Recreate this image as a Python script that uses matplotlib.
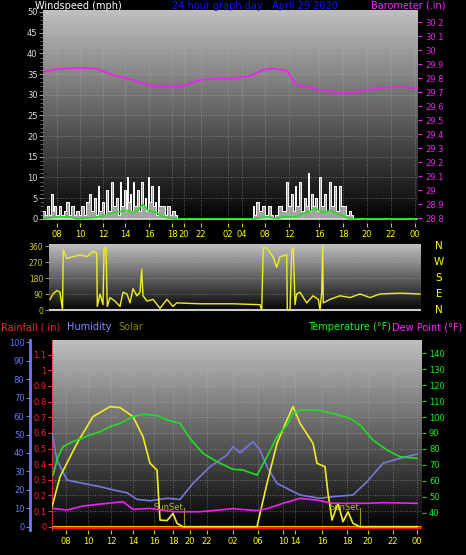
import matplotlib
matplotlib.use('Agg')
import matplotlib.pyplot as plt
import numpy as np

# ---- data (x values are horizontal positions, in pixels) ----
top_tick_pos = [57, 80, 103, 125, 149, 172, 184, 201, 228, 242, 265, 289, 319, 343, 367, 391, 415]
top_tick_lab = ['08', '10', '12', '14', '16', '18', '20', '22', '02', '04', '08', '12', '16', '18', '20', '22', '00']

baro_x = [43, 57, 80, 97, 113, 133, 150, 167, 182, 200, 217, 233, 250, 263, 273, 287, 295, 317, 333, 353, 367, 383, 400, 417]
baro_y = [29.848, 29.864, 29.876, 29.867, 29.824, 29.788, 29.75, 29.74, 29.745, 29.788, 29.80, 29.798,
          29.817, 29.86, 29.871, 29.855, 29.76, 29.72, 29.705, 29.70, 29.717, 29.733, 29.74, 29.729]

gust_x = [43, 46, 48, 50, 52, 53, 55, 57, 60, 62, 65, 67, 70, 72, 75, 77, 80, 82, 85, 87, 90, 92, 95, 97, 98,
          100, 103, 105, 107, 109, 112, 114, 117, 119, 120, 122, 125, 126, 127, 129, 130, 132, 133, 135,
          138, 140, 142, 144, 145, 147, 148, 150, 152, 154, 155, 157, 158, 160, 163, 166, 168, 171, 173, 176, 177, 178,
          252, 253, 255, 257, 260, 263, 266, 270, 272, 273, 276, 280, 284, 287, 289, 292, 294, 295, 297, 300,
          302, 305, 307, 308, 310, 312, 314, 315, 318, 320, 322, 325, 327, 330, 332, 335, 337, 340, 342, 345,
          347, 350, 352, 353]
gust_y = [2, 1, 3, 1, 6, 2, 3, 1, 3, 1, 2, 4, 1, 3, 1, 2, 1, 3, 1, 4, 6, 2, 5, 1, 8,
          2, 4, 1, 7, 2, 9, 3, 5, 1, 9, 3, 7, 2, 10, 4, 6, 2, 9, 3,
          7, 2, 9, 3, 5, 2, 10, 4, 8, 3, 4, 1, 8, 3, 3, 1, 3, 1, 2, 1, 0, 0,
          0, 3, 1, 4, 2, 3, 1, 3, 1, 0, 1, 3, 2, 9, 3, 6, 2, 8, 3, 9,
          2, 5, 3, 11, 2, 6, 3, 5, 2, 10, 3, 6, 2, 9, 3, 8, 2, 8, 3, 3,
          1, 2, 1, 0]

avg_x = [43, 57, 70, 77, 100, 113, 127, 133, 137, 143, 148, 157, 163, 173, 253, 267, 277, 283, 297, 300, 307, 315, 323, 330, 340, 350, 417]
avg_y = [0, 0.5, 0.5, 0, 0.5, 1.5, 2, 1.5, 2, 3.5, 2, 1.5, 0.5, 0, 0, 0.5, 0, 0.5, 0.5, 1, 1.5, 2.5, 1.5, 2, 1, 0, 0]

dir_x = [50, 53, 57, 60, 62.5, 63.3, 66.7, 73, 80, 87, 93, 96.7, 97.3, 100, 103, 104, 106, 107.3, 110, 115, 120, 123,
         127, 130, 133, 137, 140, 141.7, 143, 147, 153, 160, 167, 173, 176.7, 200, 233, 260, 261.7, 263.3, 266.7,
         273, 276.7, 280, 286.7, 287.3, 290, 291.7, 293.3, 295, 296.7, 300, 306.7, 313, 318.3, 320, 321.7, 322.7,
         323.3, 330, 340, 350, 360, 370, 380, 400, 420]
dir_y = [60, 90, 110, 100, 0, 340, 290, 300, 310, 300, 330, 320, 20, 90, 30, 350, 350, 20, 70, 50, 20, 100,
         90, 40, 120, 80, 100, 230, 80, 50, 60, 10, 60, 20, 40, 35, 35, 30, 0, 350, 350,
         300, 240, 300, 310, 0, 0, 330, 350, 30, 90, 100, 40, 80, 60, 0, 100, 360,
         40, 60, 80, 70, 90, 70, 90, 95, 90]

bot_tick_pos = [66, 88, 111, 133, 154, 173, 190, 207, 233, 258, 283, 295, 322, 347, 368, 393, 417]
bot_tick_lab = ['08', '10', '12', '14', '16', '18', '20', '22', '02', '06', '10', '14', '16', '18', '20', '22', '00']

temp_x = [53, 58, 63, 73, 87, 100, 110, 120, 133, 143, 157, 167, 180, 190, 203, 217, 233, 243, 257, 267, 277,
          287, 293, 300, 317, 333, 350, 360, 373, 387, 400, 417]
temp_y = [63.6, 75.1, 81.4, 84.6, 88.1, 90.8, 94, 96, 100.3, 101.7, 101, 98.2, 96, 86.6, 77.2, 72, 67.2, 66.8,
          63.6, 75.1, 87.7, 95, 102.3, 104.4, 104.4, 102.3, 99.2, 95, 85.6, 79.3, 75.1, 74.1]

dew_x = [53, 67, 83, 100, 123, 133, 150, 173, 200, 233, 257, 267, 283, 300, 317, 333, 367, 383, 417]
dew_y = [42.7, 41.7, 44.2, 45.4, 46.9, 42.1, 42.7, 40.6, 40.6, 42.5, 41.3, 42.5, 45.9, 49, 47.9, 45.9, 45.9, 46.3, 45.9]

hum_x = [52, 57, 67, 83, 100, 117, 127, 137, 150, 167, 180, 193, 210, 227, 233, 240, 253, 260, 267, 277, 290,
         300, 320, 333, 353, 367, 383, 400, 417]
hum_y = [50.6, 36.2, 25.3, 23.5, 21.7, 19.5, 18.4, 14.8, 14.1, 15.4, 14.8, 23.5, 32.5, 38.9, 43.4, 40.1, 46.1,
         41.6, 32.5, 23.5, 19.9, 17.2, 15.4, 16.3, 17.2, 24.4, 34.4, 37.1, 39.4]

solar_x = [52, 60, 77, 93, 110, 120, 133, 143, 150, 157, 160, 167, 173, 177, 183, 257, 267, 277, 287, 293, 300,
           313, 317, 325, 328, 332, 338, 343, 348, 353, 360, 417]
solar_y = [10.8, 27.1, 45.2, 59.7, 65.1, 64.6, 59.7, 48.8, 34.4, 30.7, 3.6, 3.3, 7.2, 1.8, 0, 0, 23.5, 45.2, 57.9,
           65.1, 56.1, 45.2, 34.4, 32.5, 18.1, 3.6, 12.7, 2.7, 8.1, 1.8, 0, 0]

rain_x = [52, 420]
rain_y = [0, 0]

sunset_x = [184, 360]

W, H = 466, 555
fig = plt.figure(figsize=(W / 100, H / 100), dpi=100, facecolor='black')


def axes_px(x0, y0, x1, y1):
    return fig.add_axes([x0 / W, 1 - y1 / H, (x1 - x0) / W, (y1 - y0) / H])


def backdrop(ax, x0, x1, y0, y1):
    grad = np.linspace(0.75, 0.0, 200)[:, None]
    ax.imshow(grad, extent=(x0, x1, y0, y1), aspect='auto', cmap='gray', vmin=0, vmax=1, zorder=0)
    ax.set_facecolor('black')
    for s in ax.spines.values():
        s.set_visible(False)


def grid(ax, xs, ys, x0, x1, y0, y1):
    for x in xs:
        ax.plot([x, x], [y0, y1], color='#bbbbbb', lw=0.6, ls=(0, (1, 2)), alpha=0.6, zorder=1)
    for y in ys:
        ax.plot([x0, x1], [y, y], color='#bbbbbb', lw=0.6, ls=(0, (1, 2)), alpha=0.6, zorder=1)


fs = 6
lfs = 7

# ---------------- top panel: wind speed + barometer ----------------
ax1 = axes_px(43, 10, 418, 223)
w0 = -1.0
w1 = 50 + (12 - 10) / 4.14
ax1.set_xlim(43, 418)
ax1.set_ylim(w0, w1)
backdrop(ax1, 43, 418, w0, w1)
grid(ax1, top_tick_pos, range(0, 51, 5), 43, 418, w0, w1)
ax1.fill_between(gust_x, gust_y, step='mid', color='#cccccc', alpha=0.8, lw=0, zorder=2)
ax1.step(gust_x, gust_y, where='mid', color='white', lw=0.7, zorder=3)
ax1.plot([43, 418], [0, 0], color='#dddddd', lw=1.2, zorder=3)
ax1.plot(avg_x, avg_y, color='#22dd22', lw=1.2, zorder=4)
ax1.set_yticks(range(0, 51, 5))
ax1.set_yticks(np.arange(0, 50, 1), minor=True)
ax1.tick_params(axis='y', colors='#999999', labelcolor='#dddddd', labelsize=fs, length=3, pad=1)
ax1.tick_params(axis='y', which='minor', colors='#777777', length=2)
ax1.set_xticks(top_tick_pos)
ax1.set_xticklabels(top_tick_lab)
ax1.tick_params(axis='x', colors='#cccc00', labelcolor='#ffff00', labelsize=fs, length=3, pad=2)

ax1b = ax1.twinx()
ax1b.set_ylim(28.8 - 4.7 / 140, 30.2 + 12.3 / 140)
ax1b.plot(baro_x, baro_y, color='#ee22ee', lw=1.3)
ax1b.set_yticks(np.round(np.arange(28.8, 30.25, 0.1), 1))
ax1b.set_yticklabels(['28.8', '28.9', '29', '29.1', '29.2', '29.3', '29.4', '29.5', '29.6', '29.7', '29.8',
                      '29.9', '30', '30.1', '30.2'])
ax1b.set_yticks(np.arange(28.8, 30.25, 0.02), minor=True)
ax1b.tick_params(axis='y', colors='#ee22ee', labelcolor='#ee22ee', labelsize=fs, length=3, pad=2)
ax1b.tick_params(axis='y', which='minor', length=2)
for s in ax1b.spines.values():
    s.set_visible(False)

fig.text(35 / W, 1 - 6 / H, 'Windspeed (mph)', color='white', fontsize=lfs, va='center')
fig.text(172 / W, 1 - 6 / H, '24 hour graph day : April 29 2020', color='#1010ff', fontsize=lfs, va='center')
fig.text(371 / W, 1 - 6 / H, 'Barometer (.in)', color='#ff22ff', fontsize=lfs, va='center')

# ---------------- middle panel: wind direction ----------------
ax2 = axes_px(49, 244, 421, 312)
d0 = -360 * 2 / 64
d1 = 360 + 360 * 2 / 64
ax2.set_xlim(49, 421)
ax2.set_ylim(d0, d1)
backdrop(ax2, 49, 421, d0, d1)
grid(ax2, [], [0, 90, 180, 270, 360], 49, 421, d0, d1)
ax2.plot([49, 421], [0, 0], color='#cccccc', lw=1.5, zorder=2)
ax2.plot(dir_x, dir_y, color='#eeee22', lw=1.0, zorder=3)
ax2.set_yticks([0, 90, 180, 270, 360])
ax2.tick_params(axis='y', colors='#888888', labelcolor='#cccc33', labelsize=fs - 0.5, length=3, pad=1)
ax2.set_xticks([])
for lab, d in zip(['N', 'E', 'S', 'W', 'N'], [0, 90, 180, 270, 360]):
    ax2.text(439, d, lab, color='#ffff00', fontsize=7.5, ha='center', va='center', clip_on=False)

fig.text(1 / W, 1 - 327 / H, 'Rainfall (.in)', color='#ff2020', fontsize=lfs, va='center')
fig.text(67 / W, 1 - 327 / H, 'Humidity', color='#8888ff', fontsize=lfs, va='center')
fig.text(118 / W, 1 - 327 / H, 'Solar', color='#888800', fontsize=lfs, va='center')
fig.text(391 / W, 1 - 327 / H, 'Temperature (°F)', color='#22ee22', fontsize=lfs, va='center', ha='right')
fig.text(392 / W, 1 - 327 / H, 'Dew Point (°F)', color='#ff22ff', fontsize=lfs, va='center')

# ---------------- bottom panel: rain / humidity / solar / temp / dew ----------------
ax3 = axes_px(52, 340, 422, 530)
r0, r1 = -3.3 / 156.4, (526.7 - 340) / 156.4
ax3.set_xlim(52, 422)
ax3.set_ylim(r0, r1)
backdrop(ax3, 52, 422, r0, r1)
grid(ax3, bot_tick_pos, np.arange(0, 1.15, 0.1), 52, 422, r0, r1)
ax3.plot(rain_x, rain_y, color='#ff1010', lw=2.2, zorder=5)
ax3.plot(rain_x, [0.005, 0.005], color='#ffaa00', lw=0.8, zorder=6)
ax3.spines['left'].set_visible(True)
ax3.spines['left'].set_color('#ff3030')
ax3.spines['left'].set_linestyle(':')
ax3.set_yticks(np.round(np.arange(0, 1.15, 0.1), 1))
ax3.set_yticklabels(['0', '0.1', '0.2', '0.3', '0.4', '0.5', '0.6', '0.7', '0.8', '0.9', '1', '1.1'])
ax3.tick_params(axis='y', colors='#ff3030', labelcolor='#ff2020', labelsize=fs, length=3, pad=1)
ax3.set_xticks(bot_tick_pos)
ax3.set_xticklabels(bot_tick_lab)
ax3.tick_params(axis='x', colors='#cccc00', labelcolor='#ffff00', labelsize=fs, length=3, pad=2)

ax3h = ax3.twinx()
ax3h.set_ylim((526.7 - 530) / 1.844, (526.7 - 340) / 1.844)
ax3h.yaxis.set_ticks_position('left')
ax3h.spines['left'].set_position(('axes', -22 / 370))
ax3h.spines['left'].set_color('#7777ee')
ax3h.spines['left'].set_linewidth(2)
for k in ['right', 'top', 'bottom']:
    ax3h.spines[k].set_visible(False)
ax3h.set_yticks(range(0, 101, 10))
ax3h.tick_params(axis='y', colors='#7777ee', labelcolor='#6677ff', labelsize=fs, length=3, pad=1)
ax3h.plot(hum_x, hum_y, color='#7777dd', lw=1.2, zorder=3)
ax3h.plot(solar_x, solar_y, color='#eeee22', lw=1.2, zorder=4)
for sx in sunset_x:
    ax3h.plot([sx, sx], [0, 10], color='#999900', lw=0.8)
    ax3h.text(sx - 1, 10.5, 'SunSet', color='#bbbb22', fontsize=6, ha='right', va='center')

ax3t = ax3.twinx()
ax3t.set_ylim(40 - 17.3 / 1.594, 140 + 13.3 / 1.594)
ax3t.plot(temp_x, temp_y, color='#22dd22', lw=1.2, zorder=3)
ax3t.plot(dew_x, dew_y, color='#ee22ee', lw=1.2, zorder=3)
ax3t.set_yticks(range(40, 141, 10))
ax3t.set_yticks(range(30, 146, 2), minor=True)
ax3t.tick_params(axis='y', colors='#22cc22', labelcolor='#22ee22', labelsize=fs, length=3, pad=2)
ax3t.tick_params(axis='y', which='minor', length=2)
for s in ax3t.spines.values():
    s.set_visible(False)

fig.savefig('out.png', dpi=100, facecolor='black')
